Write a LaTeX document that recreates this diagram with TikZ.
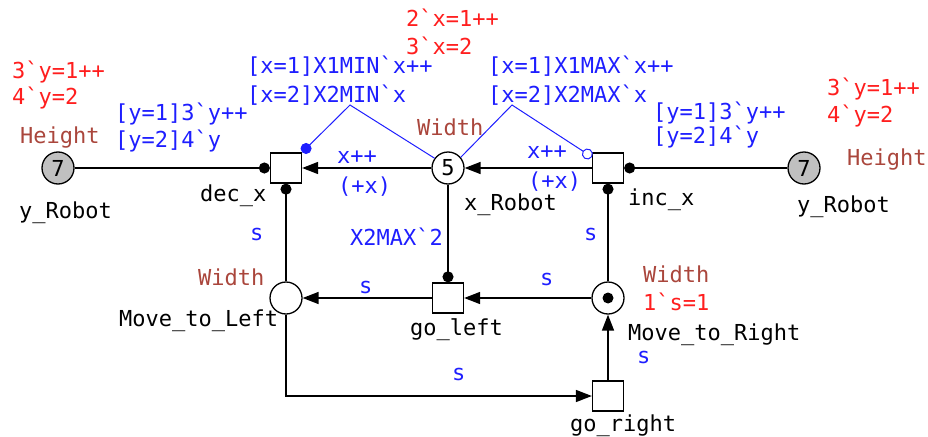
\documentclass[tikz,border=0pt]{standalone}
\usepackage{fontspec}
\setmonofont{DejaVu Sans Mono}
\usetikzlibrary{arrows.meta}
\definecolor{cpnblue}{RGB}{30,30,255}
\definecolor{cpnred}{RGB}{255,30,30}
\definecolor{cpnbrown}{RGB}{170,70,60}
\definecolor{tokengray}{RGB}{192,192,192}
\begin{document}
\begin{tikzpicture}[x=1pt,y=-1pt,
  lbl/.style={font=\ttfamily\fontsize{22}{26}\selectfont, inner sep=0pt, anchor=west, text height=16pt, text depth=0pt},
  inscr/.style={lbl, text=cpnblue},
  mark0/.style={lbl, text=cpnred},
  cset/.style={lbl, text=cpnbrown},
  place/.style={circle, draw, line width=1.3pt, minimum size=32pt, inner sep=0pt, fill=white, font=\ttfamily\fontsize{22}{26}\selectfont},
  trans/.style={rectangle, draw, line width=1.3pt, minimum width=31pt, minimum height=30pt, inner sep=0pt, fill=white},
  arcl/.style={line width=1.5pt, -{Triangle[length=16pt,width=12pt]}},
  dotarc/.style={line width=1.5pt, -{Circle[length=11pt]}},
  bluearc/.style={draw=cpnblue, line width=1pt}
]
\useasboundingbox (0,0) rectangle (928,436);

% places and transitions
\node[place, fill=tokengray] (yL) at (58,168) {7};
\node[place, fill=tokengray] (yR) at (804,168) {7};
\node[place] (xR) at (448,168) {5};
\node[place] (MtL) at (286,298) {};
\node[place] (MtR) at (608,298) {};
\node[circle, fill, inner sep=0pt, minimum size=11pt] (tok) at (608,298) {};
\node[trans] (decx) at (286,168) {};
\node[trans] (incx) at (608,168) {};
\node[trans] (goL) at (448,298) {};
\node[trans] (goR) at (608,396) {};

% arcs
\draw[dotarc] (yL) -- (decx);
\draw[dotarc] (yR) -- (incx);
\draw[arcl] (xR) -- (decx);
\draw[arcl] (incx) -- (xR);
\draw[dotarc] (MtL) -- (decx);
\draw[dotarc] (MtR) -- (incx);
\draw[dotarc] (xR) -- (goL);
\draw[arcl] (MtR) -- (goL);
\draw[arcl] (goL) -- (MtL);
\draw[arcl] (MtL.south) |- (goR.west);
\draw[arcl] (goR) -- (MtR);

% blue bent arcs
\coordinate (bendL) at (350,105);
\coordinate (bendR) at (512,105);
\coordinate (cR) at (592,157);
\draw[bluearc, -{Circle[length=11pt]}] (xR.144) -- (bendL) -- (decx.north east);
\draw[bluearc, -{Circle[open, length=11pt, fill=white]}] (xR.40) -- (bendR) -- (cR);

% left labels
\node[mark0] (m1) at (12,70) {3`y=1++};
\node[mark0] (m2) at (12,96) {4`y=2};
\node[cset] (h1) at (20,135) {Height};
\node[lbl] (n1) at (19,210) {y\_Robot};
\node[inscr] (i1) at (115,112) {[y=1]3`y++};
\node[inscr] (i2) at (115,139) {[y=2]4`y};
\node[inscr] (i3) at (247,66) {[x=1]X1MIN`x++};
\node[inscr] (i4) at (247,94) {[x=2]X2MIN`x};
\node[lbl] (n2) at (200,193) {dec\_x};

% middle labels
\node[mark0] (m3) at (406,19) {2`x=1++};
\node[mark0] (m4) at (406,47) {3`x=2};
\node[inscr] (i5) at (488,66) {[x=1]X1MAX`x++};
\node[inscr] (i6) at (488,94) {[x=2]X2MAX`x};
\node[cset] (c1) at (417,127) {Width};
\node[inscr] (i7) at (337,155) {x++};
\node[inscr] (i8) at (338,185) {(+x)};
\node[inscr] (i9) at (527,150) {x++};
\node[inscr] (i10) at (528,180) {(+x)};
\node[lbl] (n3) at (464,202) {x\_Robot};

% right labels
\node[inscr] (i11) at (653,111) {[y=1]3`y++};
\node[inscr] (i12) at (653,135) {[y=2]4`y};
\node[mark0] (m5) at (827,87) {3`y=1++};
\node[mark0] (m6) at (827,114) {4`y=2};
\node[cset] (h2) at (847,157) {Height};
\node[lbl] (n4) at (628,197) {inc\_x};
\node[lbl] (n5) at (797,204) {y\_Robot};

% lower labels
\node[inscr] (s1) at (250,232) {s};
\node[inscr] (i13) at (350,237) {X2MAX`2};
\node[cset] (c2) at (198,277) {Width};
\node[inscr] (s2) at (359,285) {s};
\node[lbl] (n6) at (119,318) {Move\_to\_Left};
\node[lbl] (n7) at (410,327) {go\_left};
\node[inscr] (s3) at (452,372) {s};
\node[inscr] (s4) at (584,232) {s};
\node[inscr] (s5) at (540,277) {s};
\node[cset] (c3) at (643,274) {Width};
\node[mark0] (m7) at (643,302) {1`s=1};
\node[lbl] (n8) at (628,332) {Move\_to\_Right};
\node[inscr] (s6) at (637,355) {s};
\node[lbl] (n9) at (570,423) {go\_right};
\end{tikzpicture}
\end{document}
